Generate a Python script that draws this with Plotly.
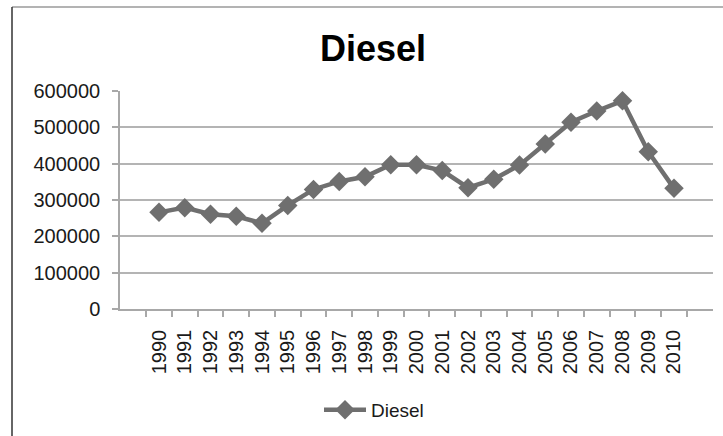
import plotly.graph_objects as go

years = [str(y) for y in range(1990, 2011)]
diesel = [266000, 279000, 261000, 255000, 236000, 285000, 329000, 351000,
          364000, 397000, 397000, 381000, 334000, 357000, 396000, 454000,
          514000, 545000, 573000, 433000, 332000]

W, H = 723, 436
L, R, T, B = 120, 10, 91, 127
pw, ph = W - L - R, H - T - B

fig = go.Figure()
fig.add_trace(go.Scatter(
    x=years, y=diesel, name="Diesel", mode="lines+markers",
    line=dict(color="#6f6f6f", width=4.5),
    marker=dict(symbol="diamond", size=15, color="#6f6f6f"),
))

# chart frame: only left and top edges show in the crop
fx = (12 - L) / pw
fy = (H - B - 7) / ph
fig.add_shape(type="line", xref="paper", yref="paper",
              x0=fx, x1=1.2, y0=fy, y1=fy,
              line=dict(color="#9a9a9a", width=1.5))
fig.add_shape(type="line", xref="paper", yref="paper",
              x0=fx, x1=fx, y0=fy, y1=-1.0,
              line=dict(color="#333333", width=1.5))

fig.update_layout(
    width=W, height=H,
    margin=dict(l=L, r=R, t=T, b=B),
    paper_bgcolor="white", plot_bgcolor="white",
    font=dict(family="Liberation Sans, Arial, sans-serif", color="#1a1a1a"),
    title=dict(text="<b>Diesel</b>", font=dict(size=36, color="black"),
               x=373 / W, xanchor="center", y=1 - 48 / H, yanchor="middle",
               xref="container", yref="container"),
    xaxis=dict(type="category", tickson="boundaries", ticks="outside",
               ticklen=6, tickcolor="#a8a8a8", tickwidth=1.5,
               showline=True, linecolor="#a8a8a8", linewidth=1.5,
               showgrid=False, tickangle=-90, tickfont=dict(size=20),
               ticklabelstandoff=11),
    yaxis=dict(range=[0, 600000], dtick=100000, tickformat="d",
               ticks="outside", ticklen=6, tickcolor="#a8a8a8", tickwidth=1.5,
               showline=True, linecolor="#a8a8a8", linewidth=1.5,
               showgrid=True, gridcolor="#b4b4b4", gridwidth=1.5,
               zeroline=False, tickfont=dict(size=20), ticklabelstandoff=8),
    showlegend=True,
    legend=dict(orientation="h", xref="container", yref="container",
                x=374 / W, xanchor="center", y=1 - 410 / H, yanchor="middle",
                font=dict(size=19), itemwidth=42),
)

fig.write_html("out.html", config={"displayModeBar": False},
               post_script="document.body.style.margin='0';")
